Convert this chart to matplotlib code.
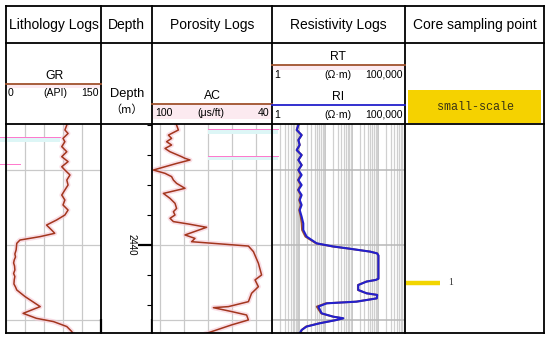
import matplotlib
matplotlib.use("Agg")
import matplotlib.pyplot as plt
import matplotlib.transforms as mtransforms
from matplotlib.ticker import MultipleLocator, LogLocator, NullFormatter

# figure size in pixels
W, H = 550, 343

# depth window shown in the tracks (m)
top_depth, base_depth = 2431.93, 2445.87

# GR log (API)
gr_depth = [2431.9, 2432.0, 2432.33, 2432.56, 2432.89, 2433.11, 2433.44, 2433.78, 2434.11,
            2434.44, 2434.78, 2435.0, 2435.33, 2435.67, 2436.0, 2436.33, 2436.67, 2437.0,
            2437.33, 2437.67, 2438.0, 2438.33, 2438.67, 2439.0, 2439.22, 2439.44, 2439.67,
            2439.89, 2440.33, 2440.6, 2440.8, 2441.0, 2441.2, 2441.4, 2441.67, 2441.9,
            2442.1, 2442.33, 2442.6, 2442.8, 2443.0, 2443.44, 2444.11, 2444.56, 2444.89,
            2445.11, 2445.44, 2445.78, 2445.9]
gr_api = [95, 96, 93, 98, 90, 93, 88, 96, 88,
          98, 88, 93, 101, 96, 98, 93, 88, 93,
          90, 98, 93, 80, 64, 72, 77, 54, 22,
          17, 16, 14, 15, 13, 12, 13.5, 14, 12,
          14, 13, 12.5, 15, 17, 30, 54, 27, 48,
          75, 96, 104, 105]

# AC log (us/ft)
ac_depth = [2431.9, 2432.33, 2432.67, 2432.89, 2433.11, 2433.33, 2433.56, 2433.78, 2434.11,
            2434.22, 2434.33, 2434.56, 2435.0, 2435.22, 2435.44, 2435.67, 2435.89, 2436.22,
            2436.56, 2436.89, 2437.22, 2437.56, 2437.78, 2438.0, 2438.22, 2438.44, 2438.6,
            2438.82, 2439.33, 2439.56, 2439.78, 2440.07, 2440.44, 2441.22, 2442.0, 2442.33,
            2442.78, 2443.22, 2443.78, 2444.11, 2444.18, 2444.44, 2444.67, 2445.0, 2445.33,
            2445.89]
ac_val = [88, 86.8, 91.8, 90.2, 92.7, 90.2, 93.5, 91, 85.2,
          83.5, 81, 87.7, 99.3, 93.5, 90.2, 89.3, 87.7, 83.5,
          94.3, 91, 88.5, 87.7, 89.3, 88.5, 91, 89.3, 81.8,
          72.7, 83.5, 78.5, 80.2, 51.8, 49.3, 46.8, 45.2, 48.5,
          46.8, 50.2, 51.8, 61.8, 69.3, 60.2, 52.7, 51.8, 60.2,
          72.7]

# resistivity logs (ohm.m)
res_depth = [2431.9, 2432.0, 2432.33, 2432.67, 2433.0, 2433.33, 2433.67, 2434.0, 2434.33,
             2434.67, 2435.0, 2435.33, 2435.67, 2436.0, 2436.33, 2436.67, 2437.0, 2437.33,
             2437.67, 2438.11, 2438.56, 2439.0, 2439.44, 2439.89, 2440.1, 2440.22, 2440.44,
             2440.56, 2440.7, 2442.25, 2442.33, 2442.44, 2442.67, 2443.0, 2443.22, 2443.33,
             2443.56, 2443.78, 2443.89, 2444.11, 2444.56, 2444.78, 2444.89, 2445.0, 2445.22,
             2445.44, 2445.67, 2445.89]
ri_ohm = [10, 9.8, 8.5, 13, 9.8, 11, 8.5, 13, 9.8,
          13, 9.8, 13, 9.8, 13, 9.8, 13, 11, 13,
          11, 13, 15, 15, 20, 48, 200, 650, 4800,
          9000, 10000, 10000, 8000, 3600, 1750, 1750, 3600, 9000,
          8700, 1500, 115, 55, 74, 200, 480, 270, 63,
          20, 13, 11]
rt_ohm = [10, 9.8, 8.5, 13, 9.8, 11, 8.5, 13, 9.8,
          13, 9.8, 12, 9.5, 12, 9.5, 12, 10.5, 12,
          10.5, 12, 13, 13.5, 18, 45, 190, 640, 4700,
          9000, 10000, 10000, 8000, 3500, 1700, 1700, 3500, 9000,
          8600, 1450, 105, 48, 70, 195, 470, 265, 60,
          19, 13, 12]

# core sampling points
core_depth = [2442.53]
core_label = ["1"]

# depth labels in the depth column
depth_marks = [2440]

# column edges (px) and row edges (px)
col_x = [6, 101, 152, 272, 405, 544]
row_y = [6, 43, 124, 333]
titles = ["Lithology Logs", "Depth", "Porosity Logs", "Resistivity Logs", "Core sampling point"]

curve_red = "#A3361E"
halo = "#F6C9D6"
gridc = "#C9C9C9"
blue = "#2320CC"

fig = plt.figure(figsize=(W / 100, H / 100), dpi=100)
fig.patch.set_facecolor("white")
plt.rcParams["font.family"] = ["Liberation Sans", "DejaVu Sans"]


def track(x0, x1):
    y0, y1 = row_y[2], row_y[3]
    ax = fig.add_axes([x0 / W, 1 - y1 / H, (x1 - x0) / W, (y1 - y0) / H])
    ax.set_ylim(base_depth, top_depth)
    for s in ax.spines.values():
        s.set_visible(False)
    ax.tick_params(which="both", length=0, labelleft=False, labelbottom=False)
    return ax


# lithology track
ax_gr = track(col_x[0], col_x[1])
ax_gr.set_xlim(0, 150)
ax_gr.xaxis.set_major_locator(MultipleLocator(30))
ax_gr.yaxis.set_major_locator(MultipleLocator(5))
ax_gr.grid(True, color=gridc, lw=0.9)
ax_gr.plot(gr_api, gr_depth, color=halo, lw=3.5, alpha=0.6, solid_capstyle="round")
ax_gr.plot(gr_api, gr_depth, color=curve_red, lw=1.1)

# depth column
ax_d = track(col_x[1], col_x[2])
ax_d.set_xlim(0, 1)
ax_d.yaxis.set_major_locator(MultipleLocator(10))
ax_d.yaxis.set_minor_locator(MultipleLocator(2))
ax_d.yaxis.set_ticks_position("right")
ax_d.tick_params(which="major", direction="in", length=10, width=1.6, color="black",
                 labelright=False, labelleft=False)
ax_d.tick_params(which="minor", direction="in", length=3.8, width=0.8, color="black")
tr = mtransforms.blended_transform_factory(ax_d.transAxes, ax_d.transData)
for d in depth_marks:
    ax_d.text(0.6, d, str(d), transform=tr, rotation=-90, ha="center", va="center", fontsize=7)

# porosity track
ax_ac = track(col_x[2], col_x[3])
ax_ac.set_xlim(100, 40)
ax_ac.xaxis.set_major_locator(MultipleLocator(12))
ax_ac.yaxis.set_major_locator(MultipleLocator(5))
ax_ac.grid(True, color=gridc, lw=0.9)
ax_ac.plot(ac_val, ac_depth, color=halo, lw=3.5, alpha=0.6)
ax_ac.plot(ac_val, ac_depth, color=curve_red, lw=1.1)

# resistivity track
ax_r = track(col_x[3], col_x[4])
ax_r.set_xscale("log")
ax_r.set_xlim(1, 1e5)
ax_r.xaxis.set_major_locator(LogLocator(base=10, numticks=10))
ax_r.xaxis.set_minor_locator(LogLocator(base=10, subs=range(2, 10), numticks=50))
ax_r.xaxis.set_minor_formatter(NullFormatter())
ax_r.yaxis.set_major_locator(MultipleLocator(5))
ax_r.grid(True, which="major", color="#B8B8B8", lw=1.1)
ax_r.grid(True, which="minor", axis="x", color="#D0D0D0", lw=0.9)
ax_r.tick_params(which="both", length=0, labelleft=False, labelbottom=False)
ax_r.plot(rt_ohm, res_depth, color="#A0522D", lw=1.4)
ax_r.plot(ri_ohm, res_depth, color=blue, lw=1.5)

# core sampling track
ax_c = track(col_x[4], col_x[5])
ax_c.set_xlim(0, 1)
ax_c.grid(False)
ax_c.hlines(core_depth, 0.01, 0.25, color="#F2D500", lw=3.2)
for d, lab in zip(core_depth, core_label):
    ax_c.text(0.31, d, lab, ha="left", va="center", fontsize=7, family="Liberation Serif",
              color="#333333")

# overlay for table frame and header text
ov = fig.add_axes([0, 0, 1, 1], zorder=10)
ov.set_xlim(0, W)
ov.set_ylim(H, 0)
ov.axis("off")
ov.patch.set_alpha(0)

# stray pink scan lines in the original
ov.fill_between([0, 60], 137, 142, color="#DDF6F6", lw=0)
ov.plot([0, 60], [137, 137], color="#FF77CC", lw=0.7)
ov.plot([0, 20], [164, 164], color="#FF77CC", lw=0.7)
ov.fill_between([208, 278], 129, 134, color="#DDF6F6", lw=0)
ov.fill_between([208, 278], 156, 160, color="#DDF6F6", lw=0)
ov.plot([208, 278], [129, 129], color="#FF77CC", lw=0.7)
ov.plot([208, 278], [156, 156], color="#FF77CC", lw=0.7)

# header bands
ov.fill_between([col_x[2], col_x[3]], 104, 119, color="#FCEAF0", lw=0)
ov.fill_between([col_x[3], col_x[4]], 65, 70, color="#FCEAF0", lw=0)
ov.fill_between([col_x[0], col_x[1]], 84, 88, color="#FCEAF0", lw=0)

lw_frame = 1.3
for y in row_y:
    ov.plot([col_x[0], col_x[-1]], [y, y], color="black", lw=lw_frame, solid_capstyle="projecting")
for x in col_x:
    ov.plot([x, x], [row_y[0], row_y[-1]], color="black", lw=lw_frame, solid_capstyle="projecting")

for i, t in enumerate(titles):
    cx = (col_x[i] + col_x[i + 1]) / 2
    ov.text(cx, 25.5, t, ha="center", va="center", fontsize=10)

small = 7.6

# GR header
ov.text(54, 76, "GR", ha="center", va="center", fontsize=8.8)
ov.plot([col_x[0], col_x[1]], [84, 84], color="#A0522D", lw=1.3)
ov.text(8, 93, "0", ha="left", va="center", fontsize=small)
ov.text(55, 93, "(API)", ha="center", va="center", fontsize=small)
ov.text(99, 93, "150", ha="right", va="center", fontsize=small)

# depth header
ov.text(127, 94, "Depth", ha="center", va="center", fontsize=9.3)
ov.text(127, 110, "（m）", ha="center", va="center", fontsize=8,
        family=["Noto Sans CJK SC", "DejaVu Sans"])

# AC header
ov.text(212, 96, "AC", ha="center", va="center", fontsize=8.8)
ov.plot([col_x[2], col_x[3]], [104, 104], color="#A0522D", lw=1.3)
ov.text(155, 113, "100", ha="left", va="center", fontsize=small)
ov.text(211, 113, "(μs/ft)", ha="center", va="center", fontsize=small)
ov.text(269, 113, "40", ha="right", va="center", fontsize=small)

# RT / RI header
for name, ly, color in [("RT", 65, "#A0522D"), ("RI", 105, blue)]:
    ov.text(338, ly - 8, name, ha="center", va="center", fontsize=8.8)
    ov.plot([col_x[3], col_x[4]], [ly, ly], color=color, lw=1.3)
    ov.text(274, ly + 9.5, "1", ha="left", va="center", fontsize=small)
    ov.text(338, ly + 9.5, "(Ω·m)", ha="center", va="center", fontsize=small)
    ov.text(403, ly + 9.5, "100,000", ha="right", va="center", fontsize=small)

# core header box
ov.fill_between([408, 541], 90, 123, color="#F5D200", lw=0)
ov.text(475, 107, "small-scale", ha="center", va="center", fontsize=8.5,
        family="Liberation Mono", color="#3A3415")

fig.savefig("out.png", dpi=100)
